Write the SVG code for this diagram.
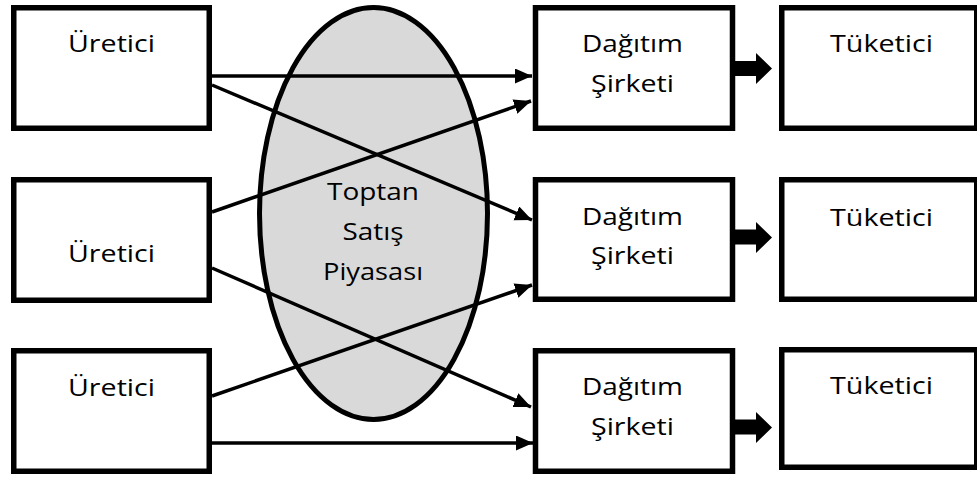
<svg xmlns="http://www.w3.org/2000/svg" width="977" height="477" viewBox="0 0 977 477">
<defs>
<style>
.box{fill:#fff;stroke:#000;stroke-width:5.5}
.t{font-family:"Open Sans","Liberation Sans",sans-serif;font-size:24px;fill:#000;text-anchor:middle}
.ln{stroke:#000;stroke-width:3.5;fill:none}
.blk{fill:#000}
</style>
<marker id="ah" markerUnits="userSpaceOnUse" markerWidth="18" markerHeight="16" refX="17" refY="7.5" orient="auto" viewBox="0 0 18 16">
<path d="M0,0 L17,7.5 L0,15 z" fill="#000"/>
</marker>
</defs>
<rect width="977" height="477" fill="#fff"/>
<g id="market">
<ellipse cx="373.5" cy="213.5" rx="114" ry="206" fill="#d9d9d9" stroke="#000" stroke-width="5"/>
<text class="t" x="373" y="200" textLength="92" lengthAdjust="spacingAndGlyphs">Toptan</text>
<text class="t" x="373" y="240" textLength="61" lengthAdjust="spacingAndGlyphs">Satış</text>
<text class="t" x="373" y="280" textLength="100" lengthAdjust="spacingAndGlyphs">Piyasası</text>
</g>
<g id="connectors">
<line class="ln" x1="212" y1="76" x2="532" y2="76" marker-end="url(#ah)"/>
<line class="ln" x1="212" y1="85" x2="532" y2="220" marker-end="url(#ah)"/>
<line class="ln" x1="212" y1="212" x2="531" y2="101" marker-end="url(#ah)"/>
<line class="ln" x1="212" y1="268" x2="531" y2="407" marker-end="url(#ah)"/>
<line class="ln" x1="212" y1="396" x2="532" y2="285" marker-end="url(#ah)"/>
<line class="ln" x1="212" y1="443" x2="533" y2="443" marker-end="url(#ah)"/>
<polygon class="blk" points="734,61 756,61 756,53 772,68.5 756,84 756,76 734,76"/>
<polygon class="blk" points="734,229.5 756,229.5 756,222 772,237.5 756,253 756,244.5 734,244.5"/>
<polygon class="blk" points="734,419.5 756,419.5 756,412 772,427.5 756,443 756,434.5 734,434.5"/>
</g>
<g id="uretici1">
<rect class="box" x="13.75" y="7.75" width="195.5" height="120.5"/>
<text class="t" x="111.5" y="52" textLength="87" lengthAdjust="spacingAndGlyphs">Üretici</text>
</g>
<g id="uretici2">
<rect class="box" x="13.75" y="179.75" width="195.5" height="120.5"/>
<text class="t" x="111.5" y="262" textLength="87" lengthAdjust="spacingAndGlyphs">Üretici</text>
</g>
<g id="uretici3">
<rect class="box" x="13.75" y="350.75" width="195.5" height="120.5"/>
<text class="t" x="111.5" y="396" textLength="87" lengthAdjust="spacingAndGlyphs">Üretici</text>
</g>
<g id="dagitim1">
<rect class="box" x="535.5" y="7.75" width="197" height="120.5"/>
<text class="t" x="632.5" y="52" textLength="101" lengthAdjust="spacingAndGlyphs">Dağıtım</text>
<text class="t" x="632.5" y="92" textLength="83" lengthAdjust="spacingAndGlyphs">Şirketi</text>
</g>
<g id="dagitim2">
<rect class="box" x="535.5" y="179.75" width="197" height="119.5"/>
<text class="t" x="632.5" y="225" textLength="101" lengthAdjust="spacingAndGlyphs">Dağıtım</text>
<text class="t" x="632.5" y="264" textLength="83" lengthAdjust="spacingAndGlyphs">Şirketi</text>
</g>
<g id="dagitim3">
<rect class="box" x="535.5" y="350.75" width="197" height="120.5"/>
<text class="t" x="632.5" y="395" textLength="101" lengthAdjust="spacingAndGlyphs">Dağıtım</text>
<text class="t" x="632.5" y="435" textLength="83" lengthAdjust="spacingAndGlyphs">Şirketi</text>
</g>
<g id="tuketici1">
<rect class="box" x="781.75" y="7.75" width="195" height="120.5"/>
<text class="t" x="881.5" y="52" textLength="103" lengthAdjust="spacingAndGlyphs">Tüketici</text>
</g>
<g id="tuketici2">
<rect class="box" x="781.75" y="179.75" width="195" height="119.5"/>
<text class="t" x="881.5" y="226" textLength="103" lengthAdjust="spacingAndGlyphs">Tüketici</text>
</g>
<g id="tuketici3">
<rect class="box" x="781.75" y="349.75" width="195" height="117.5"/>
<text class="t" x="881.5" y="394" textLength="103" lengthAdjust="spacingAndGlyphs">Tüketici</text>
</g>
</svg>
